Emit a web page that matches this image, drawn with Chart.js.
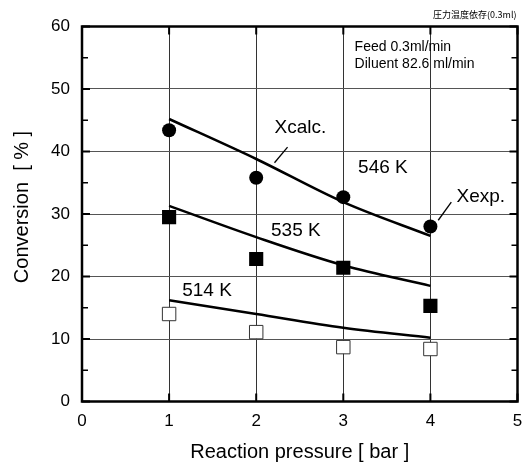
<!DOCTYPE html>
<html>
<head>
<meta charset="utf-8">
<script src="https://cdn.jsdelivr.net/npm/chart.js@4/dist/chart.umd.min.js"></script>
<style>
  html, body { margin: 0; padding: 0; background: #fff; }
  #wrap { width: 528px; height: 466px; }
</style>
</head>
<body>
<div id="wrap"><canvas id="grafico" width="528" height="466"></canvas></div>
<script>
// pressao [bar]
var pressao = [1, 2, 3, 4];

// conversao medida (Xexp.)
var exp546 = [43.4, 35.8, 32.7, 28.0];
var exp535 = [29.5, 22.8, 21.4, 15.3];
var exp514 = [14.0, 11.1, 8.7, 8.4];

// conversao calculada (Xcalc.)
var calc546 = [45.2, 38.8, 31.9, 26.5];
var calc535 = [31.3, 26.3, 21.8, 18.5];
var calc514 = [16.2, 14.0, 11.8, 10.2];

var ticksX = [0, 1, 2, 3, 4, 5];
var ticksY = [0, 10, 20, 30, 40, 50, 60];

var fonte = '"Liberation Sans", Arial, sans-serif';

function pontos(valores) {
	return pressao.map(function(p, i) {
		return { x: p, y: valores[i] };
	});
}

function curva(valores) {
	return {
		data: pontos(valores),
		showLine: true,
		pointRadius: 0,
		borderColor: '#000',
		borderWidth: 2.5,
		cubicInterpolationMode: 'monotone'
	};
}

// textos e setas, em coordenadas de dados
var rotulos = [
	{ texto: 'Xcalc.', x: 2.21, y: 43.8, tam: 19 },
	{ texto: '546 K', x: 3.17, y: 37.4, tam: 19 },
	{ texto: 'Xexp.', x: 4.30, y: 32.7, tam: 19 },
	{ texto: '535 K', x: 2.17, y: 27.3, tam: 19 },
	{ texto: '514 K', x: 1.15, y: 17.7, tam: 19 },
	{ texto: 'Feed 0.3ml/min', x: 3.13, y: 56.7, tam: 14 },
	{ texto: 'Diluent 82.6 ml/min', x: 3.13, y: 54.0, tam: 14 }
];
var setas = [
	{ x1: 2.21, y1: 38.2, x2: 2.36, y2: 40.7 },
	{ x1: 4.09, y1: 29.0, x2: 4.24, y2: 31.9 }
];

var moldura = {
	id: 'moldura',
	afterDatasetsDraw: function(chart) {
		var ctx = chart.ctx;
		var a = chart.chartArea;
		var sx = chart.scales.x, sy = chart.scales.y;
		ctx.save();
		ctx.strokeStyle = '#000';
		// marcas principais
		ctx.lineWidth = 2;
		ticksX.forEach(function(v) {
			var px = sx.getPixelForValue(v);
			ctx.beginPath();
			ctx.moveTo(px, a.bottom); ctx.lineTo(px, a.bottom - 8);
			ctx.moveTo(px, a.top); ctx.lineTo(px, a.top + 8);
			ctx.stroke();
		});
		ticksY.forEach(function(v) {
			var py = sy.getPixelForValue(v);
			ctx.beginPath();
			ctx.moveTo(a.left, py); ctx.lineTo(a.left + 8, py);
			ctx.moveTo(a.right, py); ctx.lineTo(a.right - 8, py);
			ctx.stroke();
		});
		// marcas menores
		ctx.lineWidth = 1.5;
		ticksY.slice(0, -1).forEach(function(v) {
			var py = sy.getPixelForValue(v + 5);
			ctx.beginPath();
			ctx.moveTo(a.left, py); ctx.lineTo(a.left + 6, py);
			ctx.moveTo(a.right, py); ctx.lineTo(a.right - 6, py);
			ctx.stroke();
		});
		ctx.lineWidth = 2.5;
		ctx.strokeRect(a.left, a.top, a.right - a.left, a.bottom - a.top);
		ctx.restore();
	},
	afterDraw: function(chart) {
		var ctx = chart.ctx;
		var a = chart.chartArea;
		var sx = chart.scales.x, sy = chart.scales.y;
		ctx.save();
		ctx.fillStyle = '#000';
		ctx.textBaseline = 'middle';
		ctx.textAlign = 'left';
		rotulos.forEach(function(r) {
			ctx.font = r.tam + 'px ' + fonte;
			ctx.fillText(r.texto, sx.getPixelForValue(r.x), sy.getPixelForValue(r.y));
		});
		ctx.strokeStyle = '#000';
		ctx.lineWidth = 1.3;
		setas.forEach(function(s) {
			ctx.beginPath();
			ctx.moveTo(sx.getPixelForValue(s.x1), sy.getPixelForValue(s.y1));
			ctx.lineTo(sx.getPixelForValue(s.x2), sy.getPixelForValue(s.y2));
			ctx.stroke();
		});
		// titulos dos eixos
		ctx.textAlign = 'center';
		ctx.font = '20px ' + fonte;
		ctx.fillText('Reaction pressure [ bar ]', (a.left + a.right) / 2, a.bottom + 51);
		ctx.save();
		ctx.translate(22, (a.top + a.bottom) / 2 - 7);
		ctx.rotate(-Math.PI / 2);
		ctx.fillText('Conversion  [ % ]', 0, 0);
		ctx.restore();
		// nota no canto
		ctx.textAlign = 'right';
		ctx.font = '9px "Noto Sans CJK JP", sans-serif';
		ctx.fillText('圧力温度依存(0.3ml)', a.right - 1, 15);
		ctx.restore();
	}
};

var grafico = new Chart(document.getElementById('grafico').getContext('2d'), {
	type: 'scatter',
	data: {
		datasets: [
			{ data: pontos(exp546), pointStyle: 'circle', pointRadius: 7, backgroundColor: '#000', borderColor: '#000', borderWidth: 0 },
			{ data: pontos(exp535), pointStyle: 'rect', pointRadius: 10, backgroundColor: '#000', borderColor: '#000', borderWidth: 0 },
			{ data: pontos(exp514), pointStyle: 'rect', pointRadius: 9.5, backgroundColor: '#fff', borderColor: '#333', borderWidth: 1 },
			curva(calc546),
			curva(calc535),
			curva(calc514)
		]
	},
	options: {
		responsive: false,
		animation: false,
		layout: { padding: { top: 26.5, right: 5, left: 0, bottom: 0 } },
		plugins: { legend: { display: false }, tooltip: { enabled: false } },
		scales: {
			x: {
				type: 'linear', min: 0, max: 5,
				afterBuildTicks: function(s) { s.ticks = ticksX.map(function(v) { return { value: v }; }); },
				afterFit: function(s) { s.height = 64.5; s.paddingLeft = 0; s.paddingRight = 0; },
				ticks: { color: '#000', font: { family: fonte, size: 17 }, padding: 10 },
				grid: { color: '#333', lineWidth: 1, drawTicks: false },
				border: { display: false }
			},
			y: {
				min: 0, max: 60,
				afterBuildTicks: function(s) { s.ticks = ticksY.map(function(v) { return { value: v }; }); },
				afterFit: function(s) { s.width = 82; s.paddingTop = 0; s.paddingBottom = 0; },
				ticks: { color: '#000', font: { family: fonte, size: 17 }, padding: 12 },
				grid: { color: '#555', lineWidth: 1, drawTicks: false },
				border: { display: false }
			}
		}
	},
	plugins: [moldura]
});
</script>
</body>
</html>
